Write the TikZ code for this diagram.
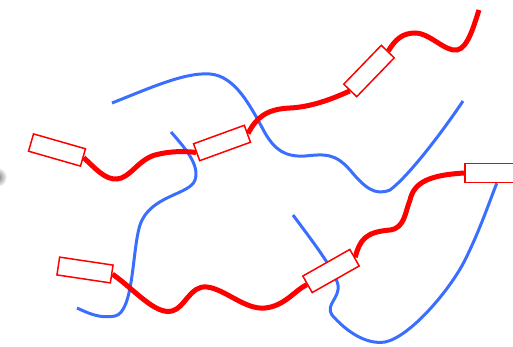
\documentclass[tikz,border=0pt]{standalone}
\usepackage{tikz}
\usetikzlibrary{backgrounds}
\definecolor{ropeblue}{RGB}{58,110,255}

\begin{document}
\begin{tikzpicture}[
    x=1pt, y=-1pt,
    % Define standard styles for the diagram components
    sleeve/.style={
        rectangle,
        draw=red,
        fill=white,
        line width=1.5pt,
        minimum width=54pt,
        minimum height=18pt,
        inner sep=0pt
    },
    redrope/.style={
        draw=red,
        line width=5pt
    },
    bluerope/.style={
        draw=ropeblue,
        line width=3pt
    }
]
\useasboundingbox (0,0) rectangle (513,346);

% --- Nodes ---
\node[sleeve, rotate=-16]  (sA) at (57,150) {};
\node[sleeve, rotate=20]   (sB) at (222,143) {};
\node[sleeve, rotate=46]   (sC) at (369,71) {};
\node[sleeve, minimum height=19pt] (sD) at (492,173) {};
\node[sleeve, rotate=29.5, minimum height=19pt] (sE) at (331,271) {};
\node[sleeve, rotate=-8.5] (sF) at (85,270) {};

% Free rope ends
\coordinate (redtop) at (479,10);
\coordinate (blueA) at (112,103);
\coordinate (blueAend) at (463,101);
\coordinate (blueB) at (171,132);
\coordinate (blueBend) at (77,308);
\coordinate (blueC) at (293,215);

% Grey blob at the left edge
\shade[inner color=gray!90!black, outer color=white] (-3,177) circle (10);

% --- Connections ---
\begin{scope}[on background layer]
% Blue ropes
\draw[bluerope] (blueA) .. controls (150,88) and (185,72) .. (210,74)
    .. controls (235,76) and (250,105) .. (265,133)
    .. controls (275,150) and (285,157) .. (305,156)
    .. controls (325,154) and (335,153) .. (350,170)
    .. controls (365,188) and (375,196) .. (390,190)
    .. controls (410,175) and (445,128) .. (blueAend);
\draw[bluerope] (blueB) .. controls (185,148) and (200,165) .. (195,180)
    .. controls (190,195) and (150,195) .. (140,225)
    .. controls (132,250) and (134,312) .. (115,316)
    .. controls (100,319) and (88,313) .. (blueBend);
\draw[bluerope] (blueC) .. controls (310,238) and (335,270) .. (338,285)
    .. controls (340,298) and (325,305) .. (332,315)
    .. controls (345,330) and (365,345) .. (385,342)
    .. controls (410,337) and (450,290) .. (465,260)
    .. controls (480,230) and (490,200) .. (sD.-65);

% Red ropes
\draw[redrope] (sA.east) .. controls (95,168) and (105,180) .. (117,179)
    .. controls (130,178) and (138,160) .. (155,155)
    .. controls (170,151) and (185,151) .. (sB.west);
\draw[redrope] (sB.east) .. controls (256,118) and (266,109) .. (290,108)
    .. controls (310,107) and (330,100) .. (sC.west);
\draw[redrope] (sC.east) .. controls (395,40) and (402,33) .. (415,33)
    .. controls (430,33) and (445,52) .. (457,50)
    .. controls (468,48) and (474,25) .. (redtop);
\draw[redrope] (sF.east) .. controls (135,290) and (155,315) .. (172,311)
    .. controls (185,308) and (190,285) .. (207,287)
    .. controls (225,289) and (245,310) .. (265,308)
    .. controls (285,306) and (295,290) .. (sE.west);
\draw[redrope] (sE.east) .. controls (360,240) and (365,232) .. (390,230)
    .. controls (405,228) and (405,212) .. (410,200)
    .. controls (414,182) and (430,175) .. (sD.west);
\end{scope}

\end{tikzpicture}
\end{document}
